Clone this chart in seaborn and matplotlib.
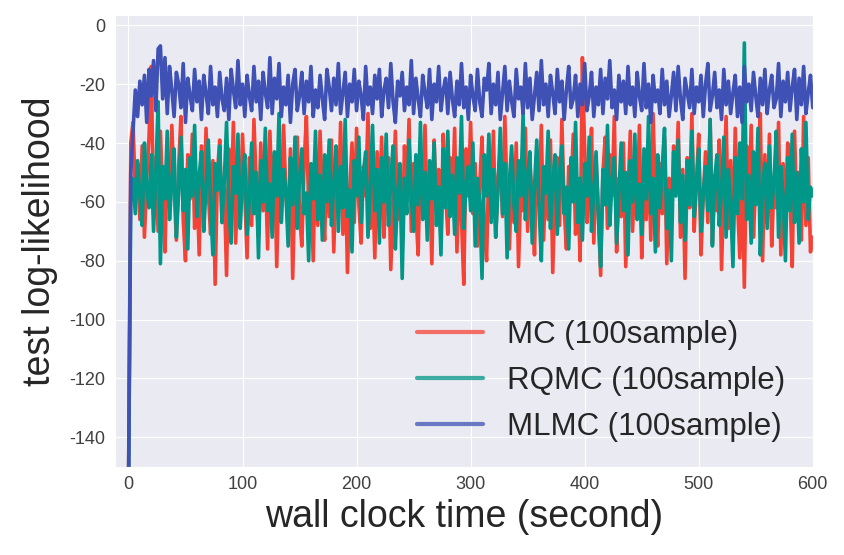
import numpy as np
import pandas as pd
import matplotlib
matplotlib.use("Agg")
import matplotlib.pyplot as plt
import seaborn as sns

# wall clock time grid (seconds), one reading every 2 s
t = list(range(0, 601, 2))

mc = [
    -160, -40, -33, -58, -47, -66, -41, -72, -52, -38,
    -14, -64, -45, -70, -36, -58, -77, -43, -62, -34,
    -55, -73, -48, -31, -66, -80, -44, -59, -37, -69,
    -52, -78, -41, -63, -35, -57, -71, -46, -88, -50,
    -39, -67, -55, -85, -42, -61, -33, -74, -49, -65,
    -37, -58, -79, -45, -68, -32, -54, -72, -40, -63,
    -48, -76, -36, -60, -44, -82, -51, -66, -34, -57,
    -70, -42, -86, -53, -38, -64, -75, -47, -31, -62,
    -55, -80, -43, -68, -36, -59, -73, -45, -65, -39,
    -77, -50, -62, -33, -71, -46, -84, -56, -40, -67,
    -35, -61, -74, -48, -58, -30, -69, -52, -79, -43,
    -64, -38, -72, -55, -45, -83, -60, -36, -66, -50,
    -76, -41, -57, -32, -70, -47, -63, -78, -44, -59,
    -34, -68, -53, -81, -39, -62, -49, -73, -37, -56,
    -71, -45, -60, -35, -77, -51, -66, -88, -42, -58,
    -33, -64, -47, -75, -54, -38, -69, -80, -46, -61,
    -36, -72, -52, -43, -65, -31, -58, -76, -49, -67,
    -40, -82, -55, -63, -35, -70, -47, -59, -78, -44,
    -61, -34, -73, -50, -66, -39, -84, -56, -45, -68,
    -32, -62, -76, -48, -57, -37, -71, -53, -80, -11,
    -42, -67, -55, -35, -74, -46, -63, -85, -50, -38,
    -69, -44, -58, -31, -77, -52, -65, -40, -82, -57,
    -36, -70, -48, -61, -34, -79, -54, -66, -43, -73,
    -30, -59, -75, -47, -64, -38, -81, -52, -68, -41,
    -56, -33, -72, -49, -86, -45, -62, -30, -70, -53,
    -37, -78, -58, -43, -67, -32, -74, -51, -63, -39,
    -83, -55, -31, -69, -46, -76, -35, -60, -79, -48,
    -89, -41, -65, -34, -72, -52, -58, -30, -80, -44,
    -67, -37, -75, -54, -62, -33, -78, -47, -70, -40,
    -57, -82, -36, -64, -50, -73, -31, -68, -45, -77,
    -72,
]

rqmc = [
    -160, -60, -52, -64, -46, -58, -68, -40, -55, -62,
    -44, -70, -50, -26, -81, -48, -59, -36, -66, -53,
    -42, -72, -57, -38, -63, -49, -76, -45, -58, -34,
    -65, -51, -43, -70, -55, -39, -61, -78, -47, -56,
    -41, -67, -53, -33, -62, -74, -48, -57, -37, -69,
    -52, -44, -71, -59, -40, -64, -50, -79, -46, -60,
    -35, -63, -54, -72, -43, -58, -30, -67, -49, -56,
    -75, -45, -61, -38, -69, -52, -42, -64, -57, -80,
    -47, -59, -36, -66, -51, -73, -44, -60, -39, -68,
    -54, -41, -70, -48, -62, -32, -65, -56, -77, -46,
    -58, -38, -67, -50, -43, -72, -55, -34, -63, -49,
    -74, -45, -60, -37, -68, -53, -41, -76, -57, -47,
    -86, -52, -64, -39, -58, -70, -44, -61, -33, -66,
    -50, -73, -46, -59, -40, -68, -55, -78, -42, -62,
    -36, -65, -51, -71, -45, -57, -31, -69, -54, -48,
    -63, -40, -75, -52, -60, -86, -44, -58, -37, -67,
    -49, -72, -56, -35, -64, -47, -79, -53, -41, -61,
    -70, -46, -58, -30, -66, -51, -43, -74, -55, -39,
    -62, -80, -48, -57, -36, -69, -53, -44, -71, -50,
    -41, -64, -55, -76, -45, -60, -33, -67, -52, -73,
    -47, -58, -38, -70, -56, -43, -65, -82, -49, -61,
    -34, -68, -53, -45, -74, -57, -40, -63, -50, -78,
    -46, -60, -37, -66, -54, -71, -42, -59, -31, -64,
    -52, -77, -44, -62, -48, -35, -69, -56, -80, -43,
    -58, -39, -67, -51, -73, -46, -61, -36, -65, -54,
    -42, -70, -57, -48, -63, -32, -75, -52, -44, -68,
    -56, -38, -72, -49, -60, -82, -45, -64, -40, -59,
    -6, -66, -51, -74, -43, -61, -35, -78, -55, -47,
    -69, -41, -62, -53, -36, -72, -48, -58, -80, -45,
    -63, -37, -67, -50, -74, -42, -60, -33, -66, -55,
    -58,
]

mlmc = [
    -160, -50, -36, -22, -31, -19, -27, -17, -33, -15,
    -24, -12, -29, -8, -7, -25, -11, -30, -14, -22,
    -31, -16, -20, -28, -13, -33, -18, -24, -29, -15,
    -26, -19, -32, -17, -23, -30, -14, -27, -21, -31,
    -16, -25, -29, -18, -32, -15, -22, -28, -12, -27,
    -20, -31, -17, -24, -29, -14, -26, -19, -32, -16,
    -23, -28, -11, -30, -18, -25, -13, -31, -21, -27,
    -17, -33, -20, -15, -29, -24, -16, -30, -19, -26,
    -14, -31, -22, -28, -17, -25, -32, -15, -21, -29,
    -18, -27, -13, -30, -23, -16, -31, -20, -26, -15,
    -29, -19, -24, -32, -14, -27, -21, -30, -17, -25,
    -15, -31, -22, -18, -28, -13, -26, -33, -19, -24,
    -16, -29, -21, -27, -12, -30, -18, -25, -31, -17,
    -23, -28, -15, -32, -20, -26, -14, -29, -22, -18,
    -30, -16, -25, -31, -19, -27, -13, -28, -21, -32,
    -17, -24, -29, -15, -26, -31, -18, -22, -13, -30,
    -20, -27, -16, -32, -23, -14, -29, -19, -26, -31,
    -15, -25, -21, -30, -13, -28, -18, -32, -24, -16,
    -29, -12, -27, -20, -31, -17, -23, -30, -15, -26,
    -19, -32, -22, -14, -28, -25, -17, -31, -20, -27,
    -13, -29, -24, -16, -31, -21, -27, -15, -30, -18,
    -25, -12, -28, -22, -32, -17, -26, -19, -30, -14,
    -27, -21, -31, -16, -24, -29, -13, -28, -20, -33,
    -17, -26, -22, -30, -15, -27, -19, -31, -24, -16,
    -29, -14, -25, -32, -18, -23, -28, -15, -30, -21,
    -26, -17, -31, -20, -13, -29, -24, -16, -28, -22,
    -32, -15, -27, -19, -30, -23, -17, -31, -21, -33,
    -14, -26, -20, -29, -16, -24, -31, -18, -27, -15,
    -30, -22, -17, -28, -25, -13, -31, -19, -26, -16,
    -29, -21, -15, -32, -18, -27, -14, -30, -23, -17,
    -28,
]

labels = ["MC (100sample)", "RQMC (100sample)", "MLMC (100sample)"]
colors = ["#f44336", "#009688", "#3f51b5"]

df = pd.concat([
    pd.DataFrame({"time": t, "ll": mc, "method": labels[0]}),
    pd.DataFrame({"time": t, "ll": rqmc, "method": labels[1]}),
    pd.DataFrame({"time": t, "ll": mlmc, "method": labels[2]}),
], ignore_index=True)

sns.set_style("darkgrid")
plt.rcParams["font.family"] = ["Liberation Sans", "DejaVu Sans"]
plt.rcParams["axes.unicode_minus"] = False

fig = plt.figure(figsize=(8.44, 5.55), dpi=100)
ax = fig.add_axes([0.136, 0.159, 0.827, 0.814])

sns.lineplot(data=df, x="time", y="ll", hue="method", hue_order=labels,
             palette=colors, estimator=None, linewidth=2.6, ax=ax)

ax.set_xlim(-12, 600)
ax.set_ylim(-150, 3.5)
ax.set_xticks([0, 100, 200, 300, 400, 500, 600])
ax.set_yticks([0, -20, -40, -60, -80, -100, -120, -140])
ax.tick_params(axis="both", labelsize=13, labelcolor="0.25")
ax.set_xlabel("wall clock time (second)", fontsize=27, color="0.15", labelpad=4)
ax.set_ylabel("test log-likelihood", fontsize=27, color="0.15", labelpad=8)

leg = ax.legend(loc="center", bbox_to_anchor=(0.697, 0.19), fontsize=22.5,
                frameon=False, handlelength=2.1, handletextpad=0.77,
                labelspacing=0.5)
for line in leg.get_lines():
    line.set_linewidth(3)
    line.set_alpha(0.75)

fig.savefig("out.png", dpi=100)
